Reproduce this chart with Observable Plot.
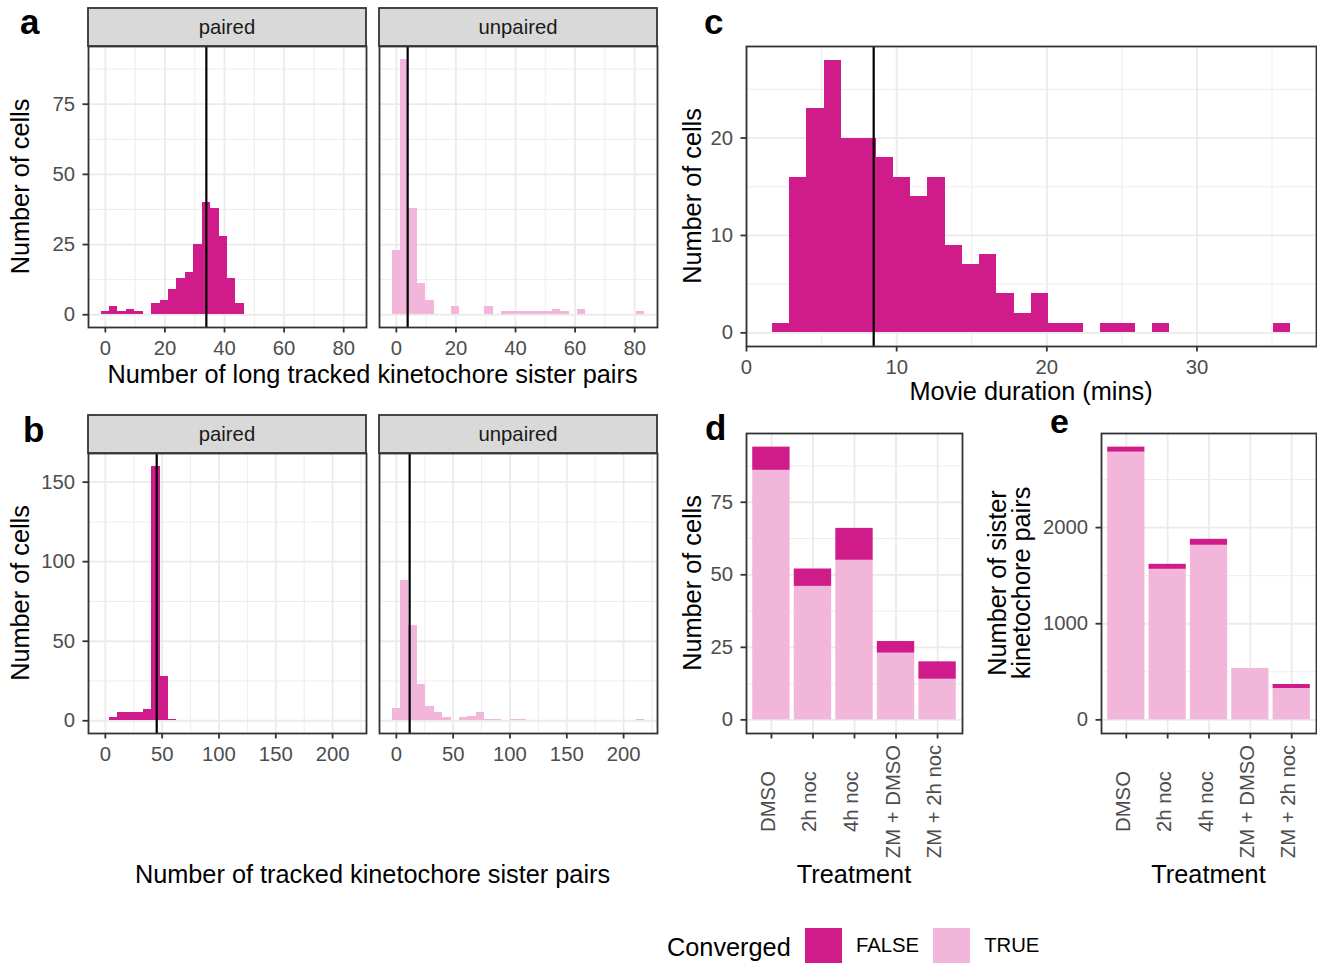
<!DOCTYPE html>
<html><head><meta charset="utf-8">
<script src="https://cdn.jsdelivr.net/npm/d3@7"></script>
<script src="https://cdn.jsdelivr.net/npm/@observablehq/plot@0.6"></script>
<style>
body{margin:0;background:#fff;}
#root{position:relative;width:1317px;height:963px;overflow:hidden;background:#fff;font-family:"Liberation Sans",Arial,Helvetica,sans-serif;}
#legendSw{position:absolute;left:805px;top:928px;}
#legendSw div{margin:0 !important;font-family:"Liberation Sans",Arial,Helvetica,sans-serif !important;font-size:20.3px !important;color:#000 !important;min-height:0 !important;}
#legendSw span{margin-right:14px !important;display:inline-flex !important;align-items:center !important;}
#legendSw span > svg{margin-right:14px !important;}
</style></head><body><div id="root"></div><script>
// ---------------- data ----------------
// (a) Number of long tracked kinetochore sister pairs: histogram bin counts (30 bins, shared range)
const longPairedCounts   = [1,3,1,2,1,0,4,5,9,13,15,25,40,38,28,13,4];
const longUnpairedCounts = [23,91,38,11,5,0,0,3,0,0,0,3,0,1,1,1,1,1,1,2,1,0,2,0,0,0,0,0,0,1];
const longBinStart = 0, longBinWidth = 82 / 29;
const longMeanPaired = 33.9, longMeanUnpaired = 3.8;

// (b) Number of tracked kinetochore sister pairs
const allPairedCounts   = [0,2,5,5,5,7,160,28,1];
const allUnpairedCounts = [8,88,60,23,9,5,2,0,2,3,5,1,1,0,1,1,0,0,0,0,0,0,0,0,0,0,0,0,0,1];
const allBinStart = 0, allBinWidth = 215 / 29;
const allMeanPaired = 45.2, allMeanUnpaired = 11.7;

// (c) Movie duration (mins)
const durationCounts = [1,16,23,28,20,20,18,16,14,16,9,7,8,4,2,4,1,1,0,1,1,0,1,0,0,0,0,0,0,1];
const durationBinStart = 2.3, durationBinWidth = 33.36 / 29;
const durationMean = 8.47;

// (d, e) per treatment, split by Converged
const treatments = ["DMSO", "2h noc", "4h noc", "ZM + DMSO", "ZM + 2h noc"];
const convergedLevels = ["FALSE", "TRUE"];
const cellsTrue  = [86, 46, 55, 23, 14];
const cellsFalse = [8, 6, 11, 4, 6];
const pairsTrue  = [2785, 1566, 1816, 535, 326];
const pairsFalse = [52, 52, 62, 0, 42];

// tick values
const longTicksX = [0, 20, 40, 60, 80],       longMinorX = [10, 30, 50, 70];
const aTicksY = [0, 25, 50, 75],              aMinorY = [12.5, 37.5, 62.5, 87.5];
const allTicksX = [0, 50, 100, 150, 200],     allMinorX = [25, 75, 125, 175, 225];
const bTicksY = [0, 50, 100, 150],            bMinorY = [25, 75, 125];
const durTicksX = [0, 10, 20, 30],            durMinorX = [5, 15, 25, 35];
const durTicksY = [0, 10, 20],                durMinorY = [5, 15, 25];
const dTicksY = [0, 25, 50, 75],              dMinorY = [12.5, 37.5, 62.5, 87.5];
const eTicksY = [0, 1000, 2000],              eMinorY = [500, 1500, 2500];

// ---------------- style ----------------
const FONT = '"Liberation Sans", Arial, Helvetica, sans-serif';
const C_FALSE = "#D01C8B", C_TRUE = "#F1B6DA";
const GRID = "#EBEBEB", BORDER = "#333333", TICKTXT = "#4D4D4D";
const SMALL = 20.3, TITLE = 25.3;
const fmt = d => String(d);

const root = document.getElementById("root");
function put(node, left, top) {
  node.style.position = "absolute";
  node.style.left = left + "px";
  node.style.top = top + "px";
  root.appendChild(node);
}
function expand([lo, hi], m = 0.05) { const d = (hi - lo) * m; return [lo - d, hi + d]; }
function toBins(counts, start, width) {
  return counts.map((n, k) => ({x1: start + (k - 0.5) * width, x2: start + (k + 0.5) * width, n}));
}
function binRange(start, width, nBins) { return [start - width / 2, start + (nBins - 0.5) * width]; }

const STYLE = {fontFamily: FONT, fontSize: SMALL + "px", background: "transparent", overflow: "visible", color: TICKTXT};

function histPanel({frame: [L, T, R, B], xDomain, yDomain, xTicks, xMinor, yTicks, yMinor, data, fill, mean, showY}) {
  const ml = showY ? 80 : 10, mr = 10, mt = 10, mb = 45;
  const plot = Plot.plot({
    width: R - L + ml + mr, height: B - T + mt + mb,
    marginLeft: ml, marginRight: mr, marginTop: mt, marginBottom: mb,
    style: STYLE,
    x: {domain: xDomain},
    y: showY ? {domain: yDomain} : {domain: yDomain, axis: null},
    marks: [
      Plot.gridX(xMinor, {stroke: GRID, strokeOpacity: 1, strokeWidth: 0.9}),
      Plot.gridY(yMinor, {stroke: GRID, strokeOpacity: 1, strokeWidth: 0.9}),
      Plot.gridX(xTicks, {stroke: GRID, strokeOpacity: 1, strokeWidth: 1.8}),
      Plot.gridY(yTicks, {stroke: GRID, strokeOpacity: 1, strokeWidth: 1.8}),
      Plot.rectY(data, {x1: "x1", x2: "x2", y1: 0, y2: "n", fill, shapeRendering: "crispEdges"}),
      Plot.ruleX([mean], {stroke: "#000", strokeWidth: 2.2}),
      Plot.frame({stroke: BORDER, strokeWidth: 1.8}),
      Plot.axisX(xTicks, {tickSize: 5.5, tickPadding: 8, color: TICKTXT, stroke: BORDER, strokeWidth: 1.8, label: null, tickFormat: fmt}),
      showY ? Plot.axisY(yTicks, {tickSize: 5.5, tickPadding: 8, color: TICKTXT, stroke: BORDER, strokeWidth: 1.8, label: null, tickFormat: fmt}) : null
    ]
  });
  put(plot, L - ml, T - mt);
}

function barPanel({frame: [L, T, R, B], rows, yDomain, yTicks, yMinor}) {
  const ml = 80, mr = 10, mt = 10, mb = 150;
  const plot = Plot.plot({
    width: R - L + ml + mr, height: B - T + mt + mb,
    marginLeft: ml, marginRight: mr, marginTop: mt, marginBottom: mb,
    style: STYLE,
    x: {type: "band", domain: treatments, paddingInner: 0.1, paddingOuter: 0.15, round: false},
    y: {domain: yDomain},
    color: {domain: convergedLevels, range: [C_FALSE, C_TRUE]},
    marks: [
      Plot.gridY(yMinor, {stroke: GRID, strokeOpacity: 1, strokeWidth: 0.9}),
      Plot.gridX(treatments, {stroke: GRID, strokeOpacity: 1, strokeWidth: 1.8}),
      Plot.gridY(yTicks, {stroke: GRID, strokeOpacity: 1, strokeWidth: 1.8}),
      Plot.barY(rows, {x: "treatment", y: "n", fill: "converged"}),
      Plot.frame({stroke: BORDER, strokeWidth: 1.8}),
      Plot.axisX(treatments, {tickSize: 5.5, tickPadding: 4, color: TICKTXT, stroke: BORDER, strokeWidth: 1.8, label: null, tickFormat: () => ""}),
      Plot.text(treatments, {x: d => d, frameAnchor: "bottom", dy: 68, dx: -3, rotate: -90,
        textAnchor: "middle", lineAnchor: "middle", fill: TICKTXT, fontSize: SMALL}),
      Plot.axisY(yTicks, {tickSize: 5.5, tickPadding: 8, color: TICKTXT, stroke: BORDER, strokeWidth: 1.8, label: null, tickFormat: fmt})
    ]
  });
  put(plot, L - ml, T - mt);
}

// ---- panel a ----
const aX = expand(binRange(longBinStart, longBinWidth, Math.max(longPairedCounts.length, longUnpairedCounts.length)));
const aY = expand([0, d3.max([...longPairedCounts, ...longUnpairedCounts])]);
histPanel({frame: [88, 46, 366, 327], xDomain: aX, yDomain: aY, xTicks: longTicksX, xMinor: longMinorX, yTicks: aTicksY, yMinor: aMinorY,
  data: toBins(longPairedCounts, longBinStart, longBinWidth), fill: C_FALSE, mean: longMeanPaired, showY: true});
histPanel({frame: [379, 46, 657, 327], xDomain: aX, yDomain: aY, xTicks: longTicksX, xMinor: longMinorX, yTicks: aTicksY, yMinor: aMinorY,
  data: toBins(longUnpairedCounts, longBinStart, longBinWidth), fill: C_TRUE, mean: longMeanUnpaired, showY: false});

// ---- panel b ----
const bX = expand(binRange(allBinStart, allBinWidth, Math.max(allPairedCounts.length, allUnpairedCounts.length)));
const bY = expand([0, d3.max([...allPairedCounts, ...allUnpairedCounts])]);
histPanel({frame: [88, 453, 366, 733], xDomain: bX, yDomain: bY, xTicks: allTicksX, xMinor: allMinorX, yTicks: bTicksY, yMinor: bMinorY,
  data: toBins(allPairedCounts, allBinStart, allBinWidth), fill: C_FALSE, mean: allMeanPaired, showY: true});
histPanel({frame: [379, 453, 657, 733], xDomain: bX, yDomain: bY, xTicks: allTicksX, xMinor: allMinorX, yTicks: bTicksY, yMinor: bMinorY,
  data: toBins(allUnpairedCounts, allBinStart, allBinWidth), fill: C_TRUE, mean: allMeanUnpaired, showY: false});

// ---- panel c ----
const cX = expand(binRange(durationBinStart, durationBinWidth, durationCounts.length));
const cY = expand([0, d3.max(durationCounts)]);
histPanel({frame: [746, 46, 1316, 346], xDomain: cX, yDomain: cY, xTicks: durTicksX, xMinor: durMinorX, yTicks: durTicksY, yMinor: durMinorY,
  data: toBins(durationCounts, durationBinStart, durationBinWidth), fill: C_FALSE, mean: durationMean, showY: true});

// ---- panels d, e ----
function stackRows(trueVals, falseVals) {
  return [
    ...treatments.map((t, i) => ({treatment: t, converged: "TRUE", n: trueVals[i]})),
    ...treatments.map((t, i) => ({treatment: t, converged: "FALSE", n: falseVals[i]}))
  ];
}
const dTotals = treatments.map((t, i) => cellsTrue[i] + cellsFalse[i]);
const eTotals = treatments.map((t, i) => pairsTrue[i] + pairsFalse[i]);
barPanel({frame: [746, 433, 962, 733], rows: stackRows(cellsTrue, cellsFalse), yDomain: expand([0, d3.max(dTotals)]), yTicks: dTicksY, yMinor: dMinorY});
barPanel({frame: [1101, 433, 1316, 733], rows: stackRows(pairsTrue, pairsFalse), yDomain: expand([0, d3.max(eTotals)]), yTicks: eTicksY, yMinor: eMinorY});

// ---------------- overlay text ----------------
const svg = d3.create("svg").attr("width", 1317).attr("height", 963)
  .style("position", "absolute").style("left", "0px").style("top", "0px")
  .style("font-family", FONT).style("pointer-events", "none");

function strip(L, T, R, B, label) {
  svg.append("rect").attr("x", L).attr("y", T).attr("width", R - L).attr("height", B - T)
    .attr("fill", "#D9D9D9").attr("stroke", BORDER).attr("stroke-width", 1.8);
  svg.append("text").attr("x", (L + R) / 2).attr("y", (T + B) / 2).attr("dy", "0.35em")
    .attr("text-anchor", "middle").attr("font-size", SMALL).attr("fill", "#1A1A1A").text(label);
}
function label(x, y, str, {size = TITLE, anchor = "middle", rotate = false, weight = "normal"} = {}) {
  const t = svg.append("text").attr("font-size", size).attr("font-weight", weight)
    .attr("text-anchor", anchor).attr("fill", "#000").text(str);
  if (rotate) t.attr("transform", `translate(${x},${y}) rotate(-90)`);
  else t.attr("x", x).attr("y", y);
}

strip(88, 8, 366, 46, "paired");
strip(379, 8, 657, 46, "unpaired");
strip(88, 415, 366, 453, "paired");
strip(379, 415, 657, 453, "unpaired");

// panel letters
label(20, 34, "a", {size: 35, anchor: "start", weight: "bold"});
label(23, 442, "b", {size: 35, anchor: "start", weight: "bold"});
label(704, 34, "c", {size: 35, anchor: "start", weight: "bold"});
label(705, 440, "d", {size: 35, anchor: "start", weight: "bold"});
label(1050, 433, "e", {size: 34, anchor: "start", weight: "bold"});

// axis titles
label(372.5, 383, "Number of long tracked kinetochore sister pairs");
label(372.5, 883, "Number of tracked kinetochore sister pairs");
label(1031, 400, "Movie duration (mins)");
label(854, 883, "Treatment");
label(1208.5, 883, "Treatment");
label(29, 186.5, "Number of cells", {rotate: true});
label(29, 593, "Number of cells", {rotate: true});
label(701, 196, "Number of cells", {rotate: true});
label(701, 583, "Number of cells", {rotate: true});
label(1006, 583, "Number of sister", {rotate: true});
label(1030, 583, "kinetochore pairs", {rotate: true});

// legend
label(667, 956, "Converged", {anchor: "start"});
root.appendChild(svg.node());

const legWrap = document.createElement("div");
legWrap.id = "legendSw";
legWrap.appendChild(Plot.legend({
  color: {type: "ordinal", domain: convergedLevels, range: [C_FALSE, C_TRUE]},
  legend: "swatches", swatchWidth: 37, swatchHeight: 35,
  style: {fontFamily: FONT, fontSize: SMALL + "px", color: "#000"}
}));
root.appendChild(legWrap);
</script></body></html>
